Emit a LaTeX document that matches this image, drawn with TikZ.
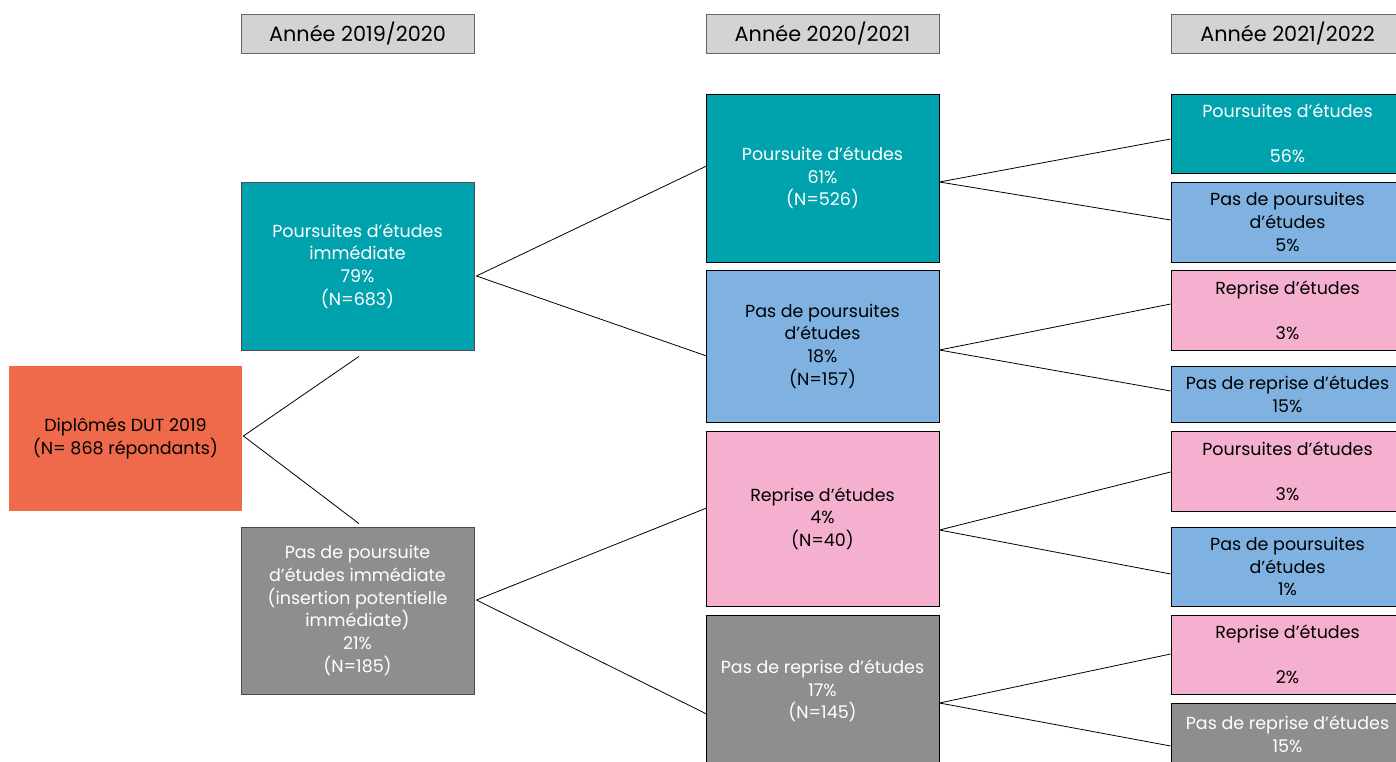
\documentclass[tikz,border=0pt]{standalone}
\usepackage{fontspec}
\setmainfont{Poppins}
\usetikzlibrary{calc}

\definecolor{tealbox}{RGB}{0,162,174}
\definecolor{bluebox}{RGB}{127,178,225}
\definecolor{pinkbox}{RGB}{245,175,207}
\definecolor{greybox}{RGB}{142,142,142}
\definecolor{headgrey}{RGB}{211,211,211}
\definecolor{rootorange}{RGB}{238,106,74}

\tikzset{
  box/.style={rectangle, draw=black, line width=0.6pt, align=center,
    inner sep=0pt, minimum width=174.75pt,
    font=\fontsize{13.1}{17}\selectfont},
  head/.style={box, fill=headgrey, draw=black!60, minimum height=29.25pt,
    font=\fontsize{15.6}{18}\selectfont},
  tealb/.style={box, fill=tealbox, text=white},
  blueb/.style={box, fill=bluebox},
  pinkb/.style={box, fill=pinkbox},
  greyb/.style={box, fill=greybox, text=white},
}

\begin{document}
\begin{tikzpicture}[x=0.75pt, y=-0.75pt]
\useasboundingbox (0,0) rectangle (1396,762);

% headers
\node[head] (H1) at (357.5,33.5) {Année 2019/2020};
\node[head] (H2) at (822.5,33.5) {Année 2020/2021};
\node[head] (H3) at (1287.5,33.5) {Année 2021/2022};

% root
\node[box, draw=none, fill=rootorange, minimum height=108.75pt] (D) at (125.5,438.5)
  {Diplômés DUT 2019\\(N= 868 répondants)};

% 2019/2020
\node[tealb, draw=black!70, minimum height=126pt] (A) at (357.5,266)
  {Poursuites d’études\\immédiate\\79\%\\(N=683)};
\node[greyb, draw=black!70, minimum height=125.25pt] (B) at (357.5,610.5)
  {Pas de poursuite\\d’études immédiate\\(insertion potentielle\\immédiate)\\21\%\\(N=185)};

% 2020/2021
\node[tealb, minimum height=126pt] (AA) at (822.5,178)
  {Poursuite d’études\\61\%\\(N=526)};
\node[blueb, minimum height=114pt] (AB) at (822.5,346)
  {Pas de poursuites\\d’études\\18\%\\(N=157)};
\node[pinkb, minimum height=131.25pt] (BA) at (822.5,518.5)
  {Reprise d’études\\4\%\\(N=40)};
\node[greyb, minimum height=114pt] (BB) at (822.5,691)
  {Pas de reprise d’études\\17\%\\(N=145)};

% 2021/2022
\node[tealb, minimum height=59.25pt] (AAA) at (1287.5,133.5) {Poursuites d’études\\~\\56\%};
\node[blueb, minimum height=60pt] (AAB) at (1287.5,222) {Pas de poursuites\\d’études\\5\%};
\node[pinkb, minimum height=60pt] (ABA) at (1287.5,310) {Reprise d’études\\~\\3\%};
\node[blueb, minimum height=42pt] (ABB) at (1287.5,394) {Pas de reprise d’études\\15\%};
\node[pinkb, minimum height=60pt] (BAA) at (1287.5,471) {Poursuites d’études\\~\\3\%};
\node[blueb, minimum height=59.25pt] (BAB) at (1287.5,566.5) {Pas de poursuites\\d’études\\1\%};
\node[pinkb, minimum height=59.25pt] (BBA) at (1287.5,654.5) {Reprise d’études\\~\\2\%};
\node[greyb, minimum height=47.25pt] (BBB) at (1287.5,734.5) {Pas de reprise d’études\\15\%};

% connectors
\begin{scope}[line width=0.6pt]
  \draw ($(D.east)+(1,-2.5)$) -- ($(A.south)+(1.5,6)$);
  \draw ($(D.east)+(1,-2.5)$) -- ($(B.north)+(1.5,-3)$);

  \draw ($(A.east)+(2,10)$) -- ($(AA.west)+(1,-12)$);
  \draw ($(A.east)+(2,10)$) -- ($(AB.west)+(1,10)$);
  \draw ($(B.east)+(2,-10.5)$) -- ($(BA.west)+(1,-10.5)$);
  \draw ($(B.east)+(2,-10.5)$) -- ($(BB.west)+(1,23)$);

  \draw ($(AA.east)+(0,4)$) -- ($(AAA.west)+(0,5.5)$);
  \draw ($(AA.east)+(0,4)$) -- ($(AAB.west)+(0,-2)$);
  \draw ($(AB.east)+(0,4)$) -- ($(ABA.west)+(0,-6)$);
  \draw ($(AB.east)+(0,4)$) -- ($(ABB.west)+(0,-3)$);
  \draw ($(BA.east)+(0,11.5)$) -- ($(BAA.west)+(0,1)$);
  \draw ($(BA.east)+(0,11.5)$) -- ($(BAB.west)+(0,7.5)$);
  \draw ($(BB.east)+(0,12)$) -- ($(BBA.west)+(0,-0.5)$);
  \draw ($(BB.east)+(0,12)$) -- ($(BBB.west)+(0,11.5)$);
\end{scope}
\end{tikzpicture}
\end{document}
